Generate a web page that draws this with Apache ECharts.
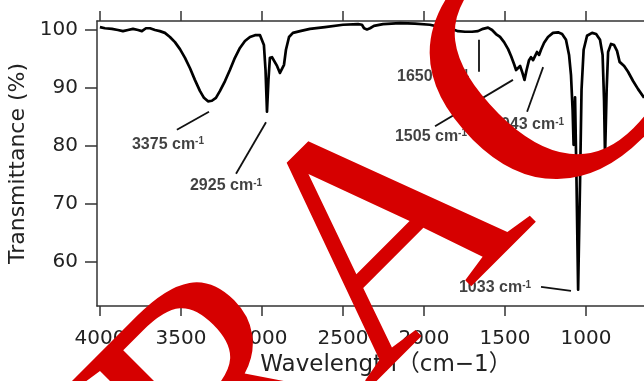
<!DOCTYPE html>
<html><head><meta charset="utf-8">
<script src="https://cdn.jsdelivr.net/npm/echarts@6/dist/echarts.min.js"></script>
<style>html,body{margin:0;padding:0;background:#fff}#c{width:644px;height:381px}</style>
</head><body><div id="c"></div>
<script>
const wavenumbers = [4000,3969,3926,3889,3858,3827,3796,3765,3741,3716,3691,3660,3630,3599,3568,3537,3506,3475,3444,3414,3383,3358,3333,3309,3284,3259,3228,3198,3167,3136,3105,3074,3043,3012,3000,2988,2978,2969,2960,2951,2938,2926,2907,2889,2877,2864,2852,2833,2809,2765,2704,2611,2500,2407,2383,2370,2352,2333,2309,2253,2148,2056,1963,1901,1840,1790,1747,1704,1667,1636,1605,1580,1556,1531,1506,1481,1463,1444,1432,1420,1407,1395,1380,1367,1352,1340,1327,1315,1303,1290,1278,1259,1235,1204,1173,1148,1124,1105,1093,1083,1077,1068,1059,1049,1037,1028,1015,994,963,938,914,898,889,883,873,864,846,827,809,793,781,765,741,710,679,642];
const transmittance = [100.5,100.3,100.2,100.0,99.8,100.0,100.2,100.0,99.8,100.3,100.3,100.0,99.8,99.5,98.8,97.9,96.7,95.2,93.4,91.4,89.5,88.3,87.7,87.8,88.3,89.5,91.2,93.1,95.2,96.9,98.1,98.8,99.1,99.1,99.0,97.4,93.1,85.9,91.4,95.2,95.3,95.0,93.8,92.6,92.6,94.0,96.6,98.8,99.5,99.8,100.2,100.5,100.9,101.0,100.9,100.3,100.1,100.3,100.7,101.0,101.2,101.1,100.9,100.5,100.3,99.8,99.7,99.7,99.8,100.2,100.4,100.0,99.3,98.8,97.9,96.7,95.5,94.1,93.1,93.4,93.8,92.8,91.4,93.1,94.8,95.3,94.8,95.5,96.2,95.7,96.6,97.8,98.8,99.5,99.6,99.3,98.3,95.7,92.2,86.2,80.2,88.4,74.1,55.2,74.1,89.7,96.6,99.0,99.5,99.3,98.3,95.7,87.9,78.1,89.7,96.2,97.6,97.4,96.4,94.5,94.7,93.8,92.8,91.2,89.8,88.3];
const xTicks = [1000,1500,2000,2500,3000,3500,4000];
const yTicks = [60,70,80,90,100];
const peakNames = ['3375','2925','1650','1505','1043','1033'];
const peakLabelAt = [[3580,80.3],[3222,73.1],[1944,91.9],[1957,81.6],[1358,83.6],[1562,55.5]];
const leaderLines = [
  [[3525,82.8],[3327,85.9]],
  [[3160,75.2],[2975,84.1]],
  [[1660,98.3],[1660,92.8]],
  [[1932,83.4],[1451,91.4]],
  [[1364,85.9],[1265,93.6]],
  [[1278,55.7],[1093,55.0]]
];
const watermarkLetters = ['R','A','C'];

const chart = echarts.init(document.getElementById('c'), null, {renderer:'canvas'});
const axisColor = '#333';
const xBase = {
  type:'value', inverse:true, min:624, max:4018,
  axisLine:{show:true, onZero:false, lineStyle:{color:axisColor, width:1.5}},
  axisTick:{show:true, inside:false, length:10, customValues:xTicks, lineStyle:{color:axisColor, width:1.5}},
  splitLine:{show:false}
};
const letterPos = [[234,402],[392,243],[562,80]];
const letterSize = [330,330,360];
chart.setOption({
  animation:false,
  backgroundColor:'#fff',
  grid:{left:97, right:-3, top:21, bottom:75, containLabel:false, outerBoundsMode:'none'},
  xAxis:[
    Object.assign({}, xBase, {
      position:'bottom',
      axisLabel:{customValues:xTicks, margin:23, fontFamily:'DejaVu Sans', fontSize:20, color:'#222', formatter:v=>String(v)},
      name:'Wavelength（cm−1）', nameLocation:'middle', nameGap:48,
      nameTextStyle:{fontFamily:'DejaVu Sans, "Noto Sans CJK JP"', fontSize:23, color:'#222', padding:[0,0,0,28]}
    }),
    Object.assign({}, xBase, {position:'top', axisLabel:{show:false}})
  ],
  yAxis:{
    type:'value', min:52.4, max:101.55,
    axisLine:{show:true, onZero:false, lineStyle:{color:axisColor, width:1.5}},
    axisTick:{show:true, inside:false, length:12, customValues:yTicks, lineStyle:{color:axisColor, width:1.5}},
    axisLabel:{customValues:yTicks, margin:19, fontFamily:'DejaVu Sans', fontSize:20, color:'#222', formatter:v=>String(v)},
    splitLine:{show:false},
    name:'Transmittance (%)', nameLocation:'middle', nameGap:52, nameRotate:90,
    nameTextStyle:{fontFamily:'DejaVu Sans', fontSize:22, color:'#222'}
  },
  series:[
    {
      type:'line', xAxisIndex:0, showSymbol:false, symbol:'none',
      data: wavenumbers.map((w,i)=>[w, transmittance[i]]),
      lineStyle:{color:'#000', width:2.7, join:'round'}, z:3
    },
    {
      type:'lines', coordinateSystem:'cartesian2d', xAxisIndex:0,
      data: leaderLines.map(c=>({coords:c})),
      lineStyle:{color:'#111', width:1.8, opacity:1}, z:4
    },
    {
      type:'scatter', xAxisIndex:0, symbolSize:0,
      data: peakLabelAt.map((p,i)=>({value:p, label:{formatter:'{n|'+peakNames[i]+' cm}{s|-1}'}})),
      label:{show:true, position:'inside', rich:{
        n:{fontFamily:'Liberation Sans', fontWeight:'bold', fontSize:16, color:'#111'},
        s:{fontFamily:'Liberation Sans', fontWeight:'bold', fontSize:10, color:'#111', verticalAlign:'top'}
      }}, z:5
    }
  ],
  graphic:{elements: watermarkLetters.map((t,i)=>({
    type:'text', x:letterPos[i][0], y:letterPos[i][1], rotation:Math.PI/4, z:100, silent:true,
    style:{text:t, font:letterSize[i]+'px "Liberation Serif"', fill:'#d60000', align:'center', verticalAlign:'middle', textAlign:'center', textVerticalAlign:'middle'}
  }))}
});
</script></body></html>
